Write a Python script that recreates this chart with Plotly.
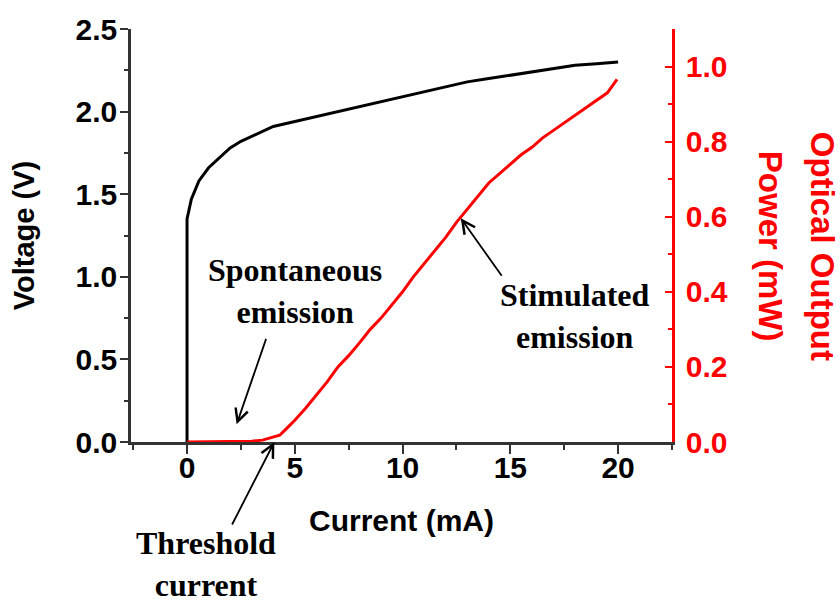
import plotly.graph_objects as go

# Voltage vs current (black, left axis)
current_v = [0, 0, 0.2, 0.55, 1.0, 1.5, 2.0, 2.5, 3.0, 3.5, 4.0, 4.5, 5.0, 6.0, 7.0,
             8.0, 9.0, 10.0, 11.0, 12.0, 13.0, 14.0, 15.0, 16.0, 17.0, 18.0, 19.0, 20.0]
voltage = [0.0, 1.35, 1.47, 1.58, 1.66, 1.72, 1.78, 1.82, 1.85, 1.88, 1.91, 1.925, 1.94,
           1.97, 2.00, 2.03, 2.06, 2.09, 2.12, 2.15, 2.18, 2.20, 2.22, 2.24, 2.26, 2.28, 2.29, 2.30]

# Optical output power vs current (red, right axis)
current_p = [0, 1, 2, 3, 3.5, 4.0, 4.3, 4.6, 5.0, 5.5, 6.0, 6.5, 7.0, 7.5, 8.0, 8.5, 9.0,
             9.5, 10.0, 10.5, 11.0, 11.5, 12.0, 12.5, 13.0, 13.5, 14.0, 14.5, 15.0, 15.5,
             16.0, 16.5, 17.0, 17.5, 18.0, 18.5, 19.0, 19.5, 19.95]
power = [0, 0, 0, 0.002, 0.005, 0.012, 0.018, 0.035, 0.058, 0.09, 0.125, 0.16, 0.20, 0.23,
         0.264, 0.30, 0.33, 0.365, 0.40, 0.44, 0.475, 0.51, 0.545, 0.585, 0.62, 0.655, 0.69,
         0.715, 0.74, 0.765, 0.785, 0.81, 0.83, 0.85, 0.87, 0.89, 0.91, 0.93, 0.966]

x_ticks = [0, 5, 10, 15, 20]
v_ticks = [0.0, 0.5, 1.0, 1.5, 2.0, 2.5]
p_ticks = [0.0, 0.2, 0.4, 0.6, 0.8, 1.0]

SANS = "Liberation Sans, Arial, sans-serif"
SERIF = "Liberation Serif, Times New Roman, serif"
AXIS_GREY = "#333333"
RED = "#ff0000"
TICK_SIZE = 30

fig = go.Figure()
fig.add_trace(go.Scatter(x=current_v, y=voltage, mode="lines",
                         line=dict(color="black", width=3), yaxis="y"))
fig.add_trace(go.Scatter(x=current_p, y=power, mode="lines",
                         line=dict(color=RED, width=3), yaxis="y2"))

fig.update_layout(
    width=840, height=602,
    margin=dict(l=131, r=168, t=27, b=160),
    paper_bgcolor="white", plot_bgcolor="white",
    showlegend=False,
    xaxis=dict(
        range=[-2.6, 22.5], tickvals=x_ticks, ticktext=[str(v) for v in x_ticks],
        showgrid=False, zeroline=False, showline=True, linecolor=AXIS_GREY, linewidth=2.5,
        ticks="outside", ticklen=9, tickwidth=2, tickcolor=AXIS_GREY,
        minor=dict(dtick=2.5, tick0=0, ticks="outside", ticklen=5, tickwidth=2,
                   tickcolor=AXIS_GREY, showgrid=False),
        ticklabelstandoff=-12,
        tickfont=dict(family=SANS, size=TICK_SIZE, color="black", weight="bold"),
        title=dict(text="Current (mA)", standoff=28,
                   font=dict(family=SANS, size=30, color="black", weight="bold")),
    ),
    yaxis=dict(
        range=[0, 2.5], tickvals=v_ticks, ticktext=[f"{v:.1f}" for v in v_ticks],
        showgrid=False, zeroline=False, showline=True, linecolor=AXIS_GREY, linewidth=2.5,
        ticks="outside", ticklen=8, tickwidth=2, tickcolor=AXIS_GREY,
        minor=dict(dtick=0.25, tick0=0, ticks="outside", ticklen=4, tickwidth=2,
                   tickcolor=AXIS_GREY, showgrid=False),
        ticklabelstandoff=-3,
        tickfont=dict(family=SANS, size=TICK_SIZE, color="black", weight="bold"),
        title=dict(text="Voltage (V)", standoff=33,
                   font=dict(family=SANS, size=29, color="black", weight="bold")),
    ),
    yaxis2=dict(
        overlaying="y", side="right", anchor="x",
        range=[0, 1.1], tickvals=p_ticks, ticktext=[f"{v:.1f}" for v in p_ticks],
        showgrid=False, zeroline=False, showline=True, linecolor=RED, linewidth=2.5,
        ticks="inside", ticklen=7, tickwidth=2, tickcolor=RED,
        minor=dict(dtick=0.1, tick0=0, ticks="inside", ticklen=4, tickwidth=2,
                   tickcolor=RED, showgrid=False),
        ticklabelstandoff=5,
        tickfont=dict(family=SANS, size=TICK_SIZE, color=RED, weight="bold"),
    ),
)

# Right-hand axis title, two lines reading top to bottom
title_font = dict(family=SANS, size=33, color=RED, weight="bold")
for line_text, shift in (("Optical Output", 150), ("Power (mW)", 98)):
    fig.add_annotation(
        text=line_text, textangle=90,
        xref="paper", yref="paper", x=1.0, y=0.475, xanchor="center", yanchor="middle",
        xshift=shift, showarrow=False, font=title_font,
    )

label_font = dict(family=SERIF, size=32, color="black", weight="bold")

# Region labels
fig.add_annotation(text="Spontaneous<br>emission", x=5.0, y=0.915, xref="x", yref="y",
                   showarrow=False, align="center", font=label_font)
fig.add_annotation(text="Stimulated<br>emission", x=18.0, y=0.76, xref="x", yref="y",
                   showarrow=False, align="center", font=label_font)
fig.add_annotation(text="Threshold<br>current", x=0.9, y=-0.295, xref="x", yref="paper",
                   xanchor="center", yanchor="middle",
                   showarrow=False, align="center", font=label_font)

arrow_style = dict(showarrow=True, arrowhead=5, arrowsize=1.4, arrowwidth=1.8,
                   arrowcolor="black", text="", standoff=0, startstandoff=0)

# Arrows: head on the curve, tail offset in pixels
fig.add_annotation(x=2.3, y=0.047, xref="x", yref="y2", ax=30, ay=-87, **arrow_style)
fig.add_annotation(x=4.05, y=0.0, xref="x", yref="y2", ax=-43, ay=84, **arrow_style)
fig.add_annotation(x=12.7, y=0.596, xref="x", yref="y2", ax=42, ay=59, **arrow_style)

fig.write_html("out.html")
